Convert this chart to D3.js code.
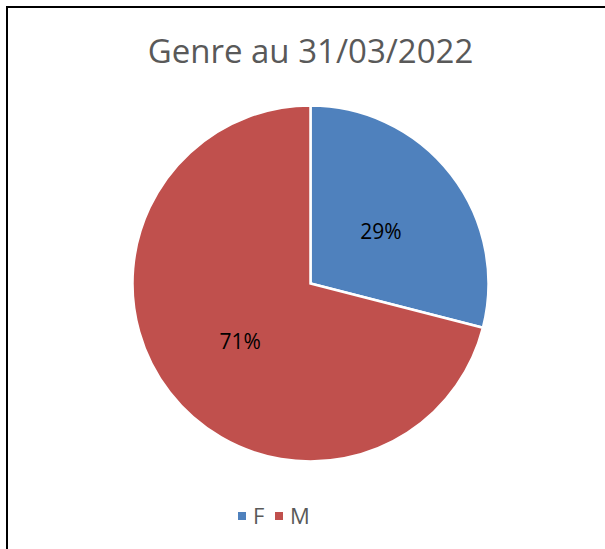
<!DOCTYPE html>
<html>
<head>
<meta charset="utf-8">
<script src="https://cdn.jsdelivr.net/npm/d3@7"></script>
<style>
  body { margin: 0; background: #fff; }
  text { font-family: "Open Sans", "Liberation Sans", sans-serif; }
</style>
</head>
<body>
<div id="chart"></div>
<script>
// chart data
const categories = ["F", "M"];
const values = [29, 71];
const colors = ["#4F81BD", "#C0504D"];
const title = "Genre au 31/03/2022";

const width = 605, height = 549;
const cx = 310.5, cy = 283.5, radius = 178;

const svg = d3.select("#chart").append("svg")
    .attr("width", width)
    .attr("height", height);

// outer frame (right and bottom edges fall outside the view)
svg.append("rect")
    .attr("x", 7).attr("y", 7)
    .attr("width", width + 10).attr("height", height + 10)
    .attr("fill", "#fff")
    .attr("stroke", "#000")
    .attr("stroke-width", 2);

svg.append("text")
    .attr("x", cx)
    .attr("y", 63)
    .attr("text-anchor", "middle")
    .attr("font-size", 33)
    .attr("fill", "#595959")
    .text(title);

const pie = d3.pie().sort(null).value(d => d.value);
const arc = d3.arc().innerRadius(0).outerRadius(radius);
const data = categories.map((c, i) => ({ cat: c, value: values[i], color: colors[i] }));
const arcs = pie(data);
const total = d3.sum(values);

const g = svg.append("g").attr("transform", `translate(${cx},${cy})`);

g.selectAll("path")
    .data(arcs)
    .join("path")
    .attr("d", arc)
    .attr("fill", d => d.data.color)
    .attr("stroke", "#fff")
    .attr("stroke-width", 2.5);

g.selectAll("text.lbl")
    .data(arcs)
    .join("text")
    .attr("class", "lbl")
    .attr("transform", d => `translate(${arc.centroid(d)})`)
    .attr("text-anchor", "middle")
    .attr("dy", "0.5em")
    .attr("font-size", 21)
    .attr("fill", "#000")
    .text(d => Math.round(d.data.value / total * 100) + "%");

// legend
const legend = svg.append("g").attr("transform", "translate(238,508)");
const items = legend.selectAll("g")
    .data(data)
    .join("g")
    .attr("transform", (d, i) => `translate(${i * 37},0)`);
items.append("rect")
    .attr("x", 0).attr("y", 4)
    .attr("width", 8).attr("height", 8)
    .attr("fill", d => d.color);
items.append("text")
    .attr("x", 15)
    .attr("y", 16)
    .attr("font-size", 22)
    .attr("fill", "#595959")
    .text(d => d.cat);
</script>
</body>
</html>
